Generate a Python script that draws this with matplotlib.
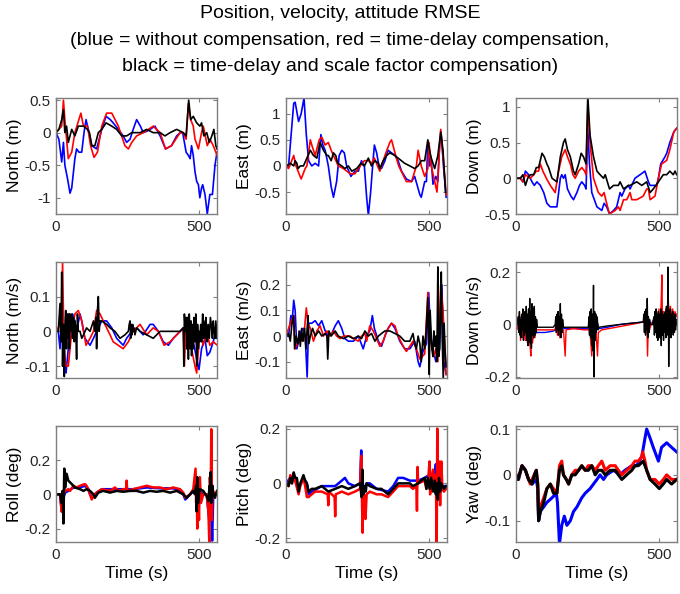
import matplotlib
matplotlib.use("Agg")
import matplotlib.pyplot as plt
from matplotlib.ticker import FormatStrFormatter

plt.rcParams['font.family'] = ['Liberation Sans', 'DejaVu Sans']
plt.rcParams['axes.unicode_minus'] = False

# (time [s], error) points, one list per curve
# position north (m)
pos_n_blue = [(0, 0), (10, -0.1), (20, -0.45), (26, -0.15), (31, -0.5), (40, -0.7), (49, -0.93), (55, -0.85),
              (66, -0.4), (72, -0.25), (80, -0.3), (90, -0.3), (98, 0.0), (105, 0.2), (113, 0.05), (125, -0.2),
              (142, -0.25), (160, 0.05), (175, 0.25), (190, 0.2), (200, 0.15), (218, 0.05), (235, -0.05),
              (247, -0.15), (259, -0.1), (270, 0.05), (282, 0.2), (295, 0.1), (305, 0.0), (317, 0.02),
              (329, 0.05), (346, 0.1), (364, -0.05), (383, -0.25), (404, -0.2), (422, -0.05), (434, 0.0),
              (443, 0.0), (455, -0.3), (463, -0.35), (469, -0.4), (474, -0.2), (480, -0.35), (486, -0.6),
              (492, -0.75), (498, -0.8), (503, -1.0), (509, -0.85), (513, -0.8), (521, -0.95), (529, -1.25),
              (538, -0.95), (547, -0.95), (556, -0.5), (563, -0.3)]
pos_n_red = [(0, 0), (10, 0.05), (20, 0.1), (26, 0.5), (31, 0.2), (43, -0.4), (55, -0.3), (66, 0.0), (80, 0.2),
             (87, 0.3), (96, 0.1), (110, 0.1), (121, -0.2), (133, -0.38), (145, -0.3), (160, 0.1), (177, 0.3),
             (195, 0.3), (218, 0.1), (241, -0.2), (253, -0.25), (265, -0.15), (282, -0.05), (305, 0.0),
             (323, 0.05), (340, 0.1), (364, 0.0), (383, -0.25), (404, -0.2), (434, 0.0), (445, 0.0),
             (455, -0.1), (463, 0.45), (471, 0.2), (480, 0.1), (486, -0.1), (498, -0.25), (509, 0.0),
             (515, 0.1), (529, -0.2), (538, -0.1), (550, -0.2), (559, -0.3), (563, -0.35)]
pos_n_black = [(0, 0), (10, 0.05), (20, 0.2), (26, 0.35), (31, 0.0), (37, 0.1), (43, -0.15), (55, 0.05),
               (66, -0.05), (78, 0.1), (96, 0.1), (110, 0.05), (117, 0.0), (125, -0.2), (136, -0.2), (148, 0.0),
               (160, 0.05), (175, 0.15), (195, 0.1), (212, 0.05), (230, -0.05), (247, -0.05), (265, 0.0),
               (294, 0.0), (317, 0.05), (340, 0.0), (364, 0.0), (381, -0.05), (399, 0.0), (422, 0.05),
               (445, 0.0), (455, -0.05), (464, 0.5), (471, 0.2), (480, 0.25), (492, 0.15), (503, 0.1),
               (509, 0.15), (517, -0.05), (527, 0.0), (536, -0.15), (545, -0.05), (552, 0.05), (559, -0.2),
               (563, -0.25)]

# position east (m)
pos_e_blue = [(0, 0), (9, 0.0), (27, 1.2), (32, 1.22), (44, 0.85), (53, 1.0), (63, 1.3), (71, 0.6), (79, 0.1),
              (90, 0.0), (102, 0.05), (114, 0.0), (122, 0.6), (129, 0.4), (137, 0.3), (148, 0.0), (158, -0.4),
              (166, -0.6), (177, -0.3), (186, 0.2), (195, 0.3), (204, 0.25), (212, 0.0), (227, -0.2),
              (241, -0.1), (253, -0.1), (264, 0.1), (274, 0.0), (282, -0.6), (288, -0.95), (296, -0.5),
              (303, 0.0), (309, 0.4), (317, 0.25), (325, 0.0), (334, -0.05), (346, 0.1), (357, 0.3),
              (381, 0.2), (392, 0.1), (404, -0.1), (421, -0.25), (439, -0.3), (450, -0.2), (468, -0.55),
              (473, -0.6), (485, -0.3), (491, -0.3), (496, 0.45), (502, 0.0), (508, 0.1), (514, -0.35),
              (524, -0.2), (531, -0.3), (537, 0.4), (543, 0.6), (552, -0.1), (560, -0.6)]
pos_e_red = [(0, 0), (9, -0.05), (27, 0.2), (35, 0.0), (42, -0.1), (53, -0.25), (67, -0.05), (73, 0.0), (85, 0.5),
             (93, 0.35), (102, 0.2), (116, 0.5), (125, 0.55), (137, 0.4), (148, 0.45), (158, 0.3), (166, 0.2),
             (183, 0.0), (201, -0.05), (224, -0.15), (241, -0.15), (259, 0.0), (274, 0.1), (288, 0.1),
             (299, 0.05), (309, 0.15), (320, 0.0), (328, -0.1), (340, 0.1), (346, 0.2), (363, 0.45),
             (369, 0.5), (381, 0.25), (386, 0.15), (394, 0.0), (421, -0.3), (439, -0.3), (456, 0.0),
             (462, 0.3), (473, 0.0), (485, -0.2), (496, -0.05), (500, 0.45), (508, 0.0), (520, -0.3),
             (528, -0.5), (541, 0.7), (549, 0.2), (560, -0.55)]
pos_e_black = [(0, 0), (15, 0.05), (27, 0.0), (32, 0.1), (38, 0.05), (42, -0.05), (50, 0.0), (61, 0.0),
               (73, 0.15), (85, 0.3), (96, 0.2), (108, 0.15), (119, 0.45), (131, 0.3), (143, 0.2), (148, 0.2),
               (158, 0.1), (166, 0.25), (174, 0.2), (181, 0.05), (195, 0.0), (206, -0.05), (218, 0.0),
               (230, -0.1), (247, -0.05), (262, 0.05), (274, 0.0), (288, 0.15), (299, 0.0), (311, 0.1),
               (323, 0.05), (328, -0.05), (340, 0.1), (352, 0.2), (363, 0.25), (381, 0.2), (392, 0.15),
               (415, 0.05), (433, 0.0), (450, -0.05), (462, 0.0), (473, 0.1), (485, 0.1), (496, 0.5),
               (502, 0.3), (508, 0.15), (520, -0.05), (531, 0.2), (541, 0.65), (549, 0.3), (558, -0.5)]

# position down (m)
pos_d_blue = [(0, 0), (15, 0.0), (24, -0.05), (33, 0.1), (44, 0.05), (50, 0.0), (56, -0.05), (64, -0.1),
              (73, -0.05), (85, -0.1), (97, -0.2), (108, -0.35), (120, -0.4), (143, -0.4), (149, -0.2),
              (155, 0.0), (160, 0.05), (166, 0.0), (172, 0.05), (180, -0.15), (192, -0.25), (201, -0.3),
              (213, -0.2), (222, -0.1), (230, -0.05), (240, -0.1), (245, -0.15), (251, 0.7), (257, 0.2),
              (265, -0.2), (283, -0.4), (300, -0.45), (308, -0.35), (317, -0.4), (327, -0.5), (341, -0.45),
              (352, -0.4), (364, -0.2), (370, -0.25), (381, -0.15), (393, -0.1), (399, -0.15), (416, 0.0),
              (434, 0.05), (451, 0.1), (463, -0.05), (469, -0.1), (492, -0.1), (498, 0.0), (506, 0.2),
              (521, 0.3), (527, 0.35), (538, 0.5), (552, 0.65), (562, 0.7)]
pos_d_red = [(0, 0), (15, 0.0), (24, -0.05), (33, 0.05), (50, 0.0), (62, 0.05), (71, 0.1), (79, 0.1), (85, 0.2),
             (94, 0.1), (106, 0.0), (120, -0.1), (137, -0.2), (149, 0.1), (160, 0.3), (172, 0.4), (180, 0.3),
             (190, 0.2), (199, 0.05), (207, 0.0), (219, 0.1), (230, 0.15), (240, 0.1), (245, 0.05),
             (251, 1.0), (259, 0.5), (271, 0.0), (288, -0.2), (300, -0.25), (308, -0.2), (317, -0.35),
             (327, -0.5), (347, -0.45), (358, -0.4), (364, -0.45), (376, -0.3), (387, -0.3), (399, -0.2),
             (405, -0.3), (422, -0.3), (445, -0.25), (457, -0.15), (463, -0.15), (469, -0.3), (486, -0.25),
             (498, 0.0), (509, 0.2), (527, 0.25), (538, 0.4), (552, 0.65), (562, 0.7)]
pos_d_black = [(0, 0), (15, 0.0), (24, 0.05), (33, -0.1), (41, 0.0), (50, 0.05), (62, 0.05), (71, 0.15),
               (79, 0.15), (91, 0.35), (99, 0.3), (108, 0.2), (114, 0.15), (126, 0.0), (143, -0.05),
               (155, 0.3), (166, 0.5), (172, 0.55), (180, 0.4), (190, 0.3), (201, 0.1), (207, 0.05),
               (219, 0.2), (228, 0.35), (236, 0.3), (245, 0.2), (251, 1.15), (259, 0.6), (271, 0.3),
               (283, 0.1), (294, 0.05), (306, 0.0), (312, 0.05), (327, -0.15), (341, -0.1), (358, -0.1),
               (364, -0.05), (376, -0.15), (393, -0.1), (399, -0.1), (422, -0.05), (440, -0.1), (457, -0.05),
               (469, -0.2), (480, -0.15), (498, -0.05), (515, 0.05), (527, 0.05), (538, 0.1), (550, 0.05),
               (556, 0.1), (562, 0.05)]

# velocity north (m/s)
vel_n_blue = [(0, 0), (8, 0.0), (14, -0.05), (20, 0.05), (28, -0.08), (35, -0.12), (43, -0.05), (49, 0.0),
              (58, 0.05), (66, 0.03), (72, 0.0), (84, 0.05), (90, 0.03), (101, -0.02), (119, -0.04),
              (131, -0.02), (142, 0.0), (160, 0.03), (177, 0.03), (195, 0.01), (212, -0.02), (235, -0.04),
              (247, -0.02), (265, 0.0), (282, 0.01), (305, -0.01), (329, 0.02), (340, 0.02), (358, 0.0),
              (375, -0.03), (393, -0.04), (410, -0.02), (434, 0.0), (445, 0.01), (457, -0.05), (469, 0.02),
              (480, -0.03), (492, -0.08), (500, -0.11), (509, -0.05), (521, -0.02), (529, -0.07),
              (538, -0.06), (550, -0.03), (563, 0.02)]
vel_n_red = [(0, 0), (14, 0.02), (20, 0.05), (23, 0.2), (28, -0.05), (35, -0.1), (43, -0.1), (55, 0.0),
             (66, 0.05), (78, 0.06), (90, 0.03), (105, -0.04), (119, -0.02), (131, 0.0), (142, 0.06),
             (154, 0.05), (171, 0.02), (189, -0.01), (200, -0.03), (235, -0.05), (253, -0.03), (270, 0.0),
             (294, 0.02), (317, -0.01), (340, 0.01), (358, 0.0), (378, -0.04), (399, -0.03), (434, 0.0),
             (445, 0.01), (449, -0.1), (455, 0.03), (466, -0.02), (474, -0.05), (486, -0.1), (492, -0.12),
             (503, 0.0), (515, -0.04), (527, 0.0), (538, -0.04), (550, -0.03), (564, -0.04)]
vel_n_black = [(0, 0), (8, 0.0), (14, 0.08), (17, -0.03), (20, 0.17), (23, -0.1), (26, 0.02), (29, -0.13),
               (32, 0.03), (34, 0.06), (37, -0.05), (40, 0.05), (43, -0.02), (45, 0.05), (47, -0.05),
               (49, 0.05), (51, 0.0), (55, 0.05), (58, -0.02), (61, 0.04), (64, -0.03), (66, 0.03), (69, 0.01),
               (72, -0.08), (75, 0.05), (78, 0.0), (84, 0.0), (90, -0.02), (96, -0.01), (107, 0.01), (119, 0.0),
               (131, 0.03), (136, 0.0), (140, 0.04), (142, -0.05), (145, 0.06), (148, 0.1), (151, 0.0),
               (154, 0.03), (160, 0.03), (177, 0.02), (189, 0.01), (206, 0.0), (224, -0.02), (241, -0.01),
               (253, 0.0), (256, 0.02), (259, 0.03), (261, -0.02), (263, 0.02), (265, -0.01), (268, 0.02),
               (270, 0.0), (273, 0.01), (276, -0.01), (282, 0.01), (294, 0.0), (317, -0.01), (340, -0.02),
               (364, 0.0), (387, 0.0), (410, 0.0), (434, 0.0), (445, 0.01), (447, -0.1), (449, 0.05),
               (452, 0.0), (455, 0.04), (458, -0.05), (460, 0.04), (463, -0.08), (466, 0.05), (469, -0.05),
               (472, 0.03), (474, -0.07), (477, 0.02), (480, -0.05), (483, 0.04), (486, -0.03), (489, 0.05),
               (492, -0.1), (495, 0.02), (498, -0.05), (500, 0.0), (503, -0.03), (506, 0.02), (509, -0.03),
               (513, 0.05), (515, -0.02), (517, 0.03), (521, -0.02), (524, 0.04), (527, 0.0), (529, -0.03),
               (532, 0.02), (536, -0.02), (540, 0.04), (544, 0.01), (547, -0.02), (550, 0.03), (553, 0.0),
               (556, -0.02), (559, 0.03), (562, -0.02)]

# velocity east (m/s)
vel_e_blue = [(0, 0), (9, 0.0), (17, 0.08), (21, 0.05), (27, 0.14), (32, 0.1), (38, -0.05), (44, -0.02),
              (53, 0.02), (61, 0.03), (67, 0.0), (74, -0.16), (79, 0.05), (90, 0.05), (102, 0.06), (114, 0.04),
              (125, 0.06), (137, 0.02), (148, 0.0), (160, 0.01), (172, 0.04), (183, 0.06), (195, 0.03),
              (206, -0.01), (218, -0.02), (236, -0.02), (253, 0.0), (270, -0.05), (282, 0.0), (293, 0.02),
              (302, 0.08), (309, 0.03), (323, -0.02), (334, -0.04), (346, 0.0), (357, 0.03), (369, 0.05),
              (381, 0.03), (398, -0.02), (415, -0.05), (433, -0.05), (450, -0.02), (462, -0.1), (468, -0.12),
              (479, -0.06), (491, -0.03), (499, 0.17), (506, 0.0), (514, -0.05), (524, -0.1), (537, -0.05),
              (545, 0.2), (552, -0.1), (560, -0.15)]
vel_e_red = [(0, 0), (15, 0.05), (27, 0.08), (32, -0.05), (42, -0.02), (50, 0.0), (61, -0.02), (71, 0.11),
             (77, 0.05), (85, 0.03), (96, -0.02), (108, 0.02), (119, 0.04), (131, 0.0), (143, 0.02), (154, 0.0),
             (166, 0.02), (177, 0.0), (189, -0.01), (201, 0.0), (224, 0.0), (236, -0.01), (253, -0.02),
             (264, 0.0), (276, 0.01), (282, -0.02), (293, 0.04), (305, 0.02), (317, -0.01), (328, -0.04),
             (340, -0.02), (352, 0.02), (369, 0.05), (381, 0.04), (392, 0.0), (410, -0.04), (421, -0.06),
             (433, -0.04), (444, -0.02), (456, -0.05), (468, -0.09), (485, -0.07), (496, 0.17), (502, 0.0),
             (517, -0.08), (524, -0.05), (531, -0.1), (541, 0.2), (549, 0.1), (560, -0.15)]
vel_e_black = [(0, 0), (9, 0.01), (15, -0.02), (21, 0.05), (27, 0.08), (30, -0.05), (35, 0.0), (42, -0.03),
               (46, 0.02), (50, -0.04), (55, 0.03), (58, -0.02), (61, 0.0), (65, 0.03), (70, -0.05), (74, 0.03),
               (77, 0.08), (80, -0.03), (85, 0.0), (93, 0.03), (102, 0.0), (114, 0.02), (125, 0.0), (137, 0.01),
               (143, 0.0), (146, -0.09), (150, 0.02), (158, 0.0), (172, 0.02), (183, 0.0), (201, -0.01),
               (218, 0.0), (236, -0.01), (253, 0.0), (264, -0.01), (276, 0.02), (288, 0.0), (299, 0.01),
               (311, -0.02), (323, 0.0), (334, 0.01), (346, 0.02), (363, 0.02), (381, 0.01), (398, 0.0),
               (415, -0.02), (433, -0.02), (444, 0.01), (450, -0.03), (456, -0.05), (462, 0.0), (468, -0.03),
               (473, -0.1), (479, 0.0), (485, -0.05), (490, 0.02), (496, 0.15), (499, -0.05), (501, -0.15),
               (504, 0.1), (506, 0.05), (510, -0.05), (514, -0.08), (517, 0.02), (520, -0.04), (524, 0.0),
               (527, -0.1), (529, 0.05), (531, 0.27), (534, -0.08), (537, -0.05), (540, 0.1), (543, 0.25),
               (546, 0.0), (550, -0.17), (553, 0.05), (556, -0.05), (560, -0.12)]

# velocity down (m/s)
vel_d_blue = [(0, 0), (10, -0.02), (14, 0.03), (18, -0.04), (22, 0.02), (26, -0.05), (30, 0.03), (34, -0.06),
              (38, 0.02), (42, -0.07), (46, 0.03), (50, -0.08), (54, 0.02), (58, -0.06), (62, 0.02), (66, -0.04),
              (70, -0.03), (80, -0.03), (100, -0.03), (130, -0.025), (137, -0.02), (143, 0.02), (147, -0.04),
              (151, 0.02), (155, -0.04), (159, 0.01), (166, -0.015), (200, -0.015), (240, -0.015),
              (253, -0.015), (259, 0.03), (263, -0.05), (267, 0.02), (271, -0.08), (275, 0.02), (279, -0.04),
              (284, 0.01), (290, -0.015), (320, -0.01), (360, 0.0), (400, 0.005), (445, 0.01), (451, 0.03),
              (455, -0.03), (459, 0.04), (463, -0.02), (467, 0.01), (472, 0.0), (482, 0.02), (486, -0.03),
              (490, 0.03), (494, -0.03), (498, 0.04), (502, -0.04), (506, 0.03), (510, -0.03), (516, 0.03),
              (520, -0.02), (526, 0.04), (532, -0.02), (538, 0.03), (544, -0.02), (550, 0.03), (556, -0.01),
              (562, 0.02)]
vel_d_red = [(0, 0), (8, -0.02), (12, 0.04), (16, -0.06), (20, 0.03), (24, -0.05), (28, 0.05), (32, -0.06),
             (36, 0.04), (40, -0.07), (44, 0.05), (48, -0.06), (52, -0.12), (54, 0.04), (58, -0.07), (62, 0.04),
             (66, -0.05), (70, -0.02), (80, -0.02), (100, -0.02), (130, -0.02), (137, -0.02), (141, 0.02),
             (145, -0.04), (149, 0.03), (153, -0.05), (157, 0.02), (161, -0.03), (166, -0.02), (172, -0.12),
             (175, -0.02), (200, -0.015), (240, -0.02), (253, -0.02), (257, 0.03), (261, -0.06), (265, -0.12),
             (269, 0.03), (273, -0.05), (277, 0.04), (281, -0.05), (285, -0.12), (288, -0.03), (300, -0.02),
             (350, -0.01), (400, 0.0), (445, 0.01), (449, 0.02), (453, -0.03), (457, 0.03), (460, -0.12),
             (463, 0.02), (467, -0.02), (472, 0.0), (480, 0.01), (484, 0.03), (488, -0.03), (492, 0.05),
             (496, -0.04), (500, 0.06), (504, -0.03), (508, 0.1), (510, 0.19), (512, 0.02), (516, 0.05),
             (520, 0.0), (524, 0.06), (528, 0.02), (532, 0.1), (536, 0.03), (540, 0.07), (544, 0.02),
             (548, 0.06), (552, 0.03), (556, 0.05), (560, 0.03), (562, 0.04)]
vel_d_black = [(0, 0), (5, 0.0), (8, 0.03), (10, -0.03), (12, 0.05), (14, -0.04), (16, 0.02), (18, -0.05),
               (20, 0.04), (22, -0.02), (24, 0.06), (26, -0.06), (28, 0.03), (30, -0.04), (32, 0.05), (34, -0.03),
               (36, 0.07), (38, -0.06), (40, 0.04), (42, -0.08), (44, 0.06), (46, -0.05), (48, 0.1), (50, -0.07),
               (52, 0.05), (54, -0.09), (56, 0.08), (58, -0.04), (60, 0.06), (62, -0.05), (64, 0.07),
               (66, -0.04), (68, 0.03), (70, -0.03), (72, 0.02), (75, -0.01), (80, -0.01), (90, -0.01),
               (110, -0.01), (130, -0.01), (137, 0.0), (139, 0.03), (141, -0.03), (143, 0.04), (145, -0.02),
               (147, 0.05), (149, -0.04), (151, 0.03), (153, -0.02), (155, 0.08), (157, -0.05), (159, 0.04),
               (161, -0.03), (163, 0.02), (166, -0.01), (180, -0.01), (200, -0.01), (230, -0.01), (253, -0.01),
               (255, 0.03), (257, -0.04), (259, 0.05), (261, -0.05), (263, 0.06), (265, -0.08), (267, 0.04),
               (269, -0.1), (271, 0.15), (273, -0.2), (275, 0.05), (277, -0.06), (279, 0.04), (281, -0.03),
               (284, 0.03), (287, -0.02), (290, -0.01), (320, -0.005), (360, 0.0), (400, 0.005), (445, 0.01),
               (447, 0.04), (449, -0.03), (451, 0.05), (453, -0.04), (455, 0.06), (457, -0.02), (459, 0.1),
               (461, -0.05), (463, 0.03), (465, -0.03), (467, 0.02), (470, 0.0), (478, 0.0), (482, 0.03),
               (484, -0.04), (486, 0.05), (488, -0.03), (490, 0.06), (492, -0.05), (494, 0.04), (496, -0.06),
               (498, 0.05), (500, -0.03), (502, 0.04), (504, -0.05), (506, 0.06), (508, -0.08), (510, 0.05),
               (512, -0.04), (514, 0.03), (516, -0.06), (518, 0.04), (520, -0.03), (522, 0.05), (524, -0.05),
               (526, 0.07), (528, -0.04), (530, 0.06), (532, 0.22), (534, -0.16), (536, 0.05), (538, -0.04),
               (540, 0.06), (542, -0.05), (544, 0.04), (546, -0.03), (548, 0.05), (550, -0.04), (552, 0.03),
               (554, -0.03), (556, 0.04), (558, -0.02), (560, 0.02), (562, 0.0)]

# roll (deg)
roll_blue = [(0, 0), (14, 0.0), (20, -0.1), (23, -0.04), (26, -0.02), (32, 0.01), (43, 0.02), (61, 0.04),
             (84, 0.04), (101, 0.05), (113, 0.03), (119, 0.0), (125, -0.02), (142, 0.01), (160, 0.03),
             (206, 0.03), (235, 0.03), (270, 0.03), (317, 0.04), (364, 0.035), (410, 0.035), (434, 0.025),
             (445, 0.0), (452, -0.03), (469, 0.0), (480, 0.02), (490, 0.0), (494, -0.08), (500, 0.02),
             (515, 0.0), (527, 0.0), (536, -0.15), (541, 0.05), (543, -0.1), (546, -0.27), (550, 0.0),
             (563, 0.0)]
roll_red = [(0, 0), (14, 0.0), (20, -0.1), (23, -0.03), (26, 0.0), (32, 0.02), (43, 0.03), (49, 0.02), (61, 0.05),
            (72, 0.04), (84, 0.05), (101, 0.06), (107, 0.05), (113, 0.03), (119, 0.0), (125, -0.03), (131, -0.01),
            (142, 0.01), (160, 0.03), (189, 0.02), (206, 0.04), (218, 0.02), (235, 0.03), (245, 0.03),
            (247, 0.08), (249, 0.02), (270, 0.03), (294, 0.04), (317, 0.05), (340, 0.04), (364, 0.04),
            (387, 0.03), (410, 0.04), (434, 0.03), (445, 0.01), (452, -0.02), (469, 0.0), (480, 0.03),
            (488, 0.15), (490, -0.05), (492, 0.1), (494, -0.2), (497, 0.05), (500, -0.15), (503, 0.1),
            (507, -0.05), (515, 0.0), (527, 0.0), (533, -0.1), (536, -0.28), (538, 0.1), (541, -0.05),
            (543, 0.38), (545, -0.15), (547, 0.05), (550, 0.0), (556, 0.01), (563, 0.0)]
roll_black = [(0, 0), (8, 0.0), (14, 0.0), (20, -0.05), (23, 0.02), (26, -0.17), (28, 0.05), (29, 0.15),
              (32, 0.04), (35, 0.1), (37, 0.12), (43, 0.08), (49, 0.07), (55, 0.06), (66, 0.04), (84, 0.03),
              (96, 0.02), (107, 0.03), (119, 0.02), (131, 0.0), (136, -0.02), (148, 0.01), (165, 0.02),
              (189, 0.01), (212, 0.02), (235, 0.015), (259, 0.02), (282, 0.02), (305, 0.01), (329, 0.02),
              (352, 0.015), (375, 0.02), (399, 0.01), (422, 0.02), (445, 0.0), (457, -0.02), (469, 0.0),
              (480, 0.02), (486, 0.0), (490, 0.05), (492, -0.1), (494, 0.1), (497, -0.05), (500, 0.0),
              (503, 0.03), (515, 0.02), (527, -0.01), (533, -0.04), (537, 0.05), (539, -0.02), (541, 0.13),
              (543, -0.05), (545, 0.02), (547, 0.05), (550, 0.0), (556, -0.02), (563, 0.02)]

# pitch (deg)
pitch_blue = [(0, 0), (15, 0.02), (27, 0.03), (44, -0.02), (61, 0.02), (73, 0.0), (79, -0.04), (90, -0.03),
              (125, -0.01), (172, -0.01), (195, 0.01), (206, 0.02), (218, 0.0), (241, -0.01), (259, 0.0),
              (263, 0.12), (265, 0.0), (270, -0.03), (282, 0.0), (293, 0.0), (317, -0.02), (357, -0.03),
              (375, -0.01), (392, 0.02), (410, 0.02), (433, 0.01), (462, 0.01), (485, 0.02), (500, 0.03),
              (508, 0.0), (520, 0.02), (524, 0.07), (527, 0.0), (535, 0.02), (543, -0.01), (560, -0.01)]
pitch_red = [(0, 0), (9, -0.01), (15, 0.03), (21, 0.0), (27, 0.03), (32, 0.01), (44, -0.04), (50, -0.01),
             (61, 0.02), (67, -0.01), (73, -0.05), (79, -0.05), (90, -0.04), (102, -0.03), (125, -0.03),
             (146, -0.04), (148, -0.08), (150, -0.03), (160, -0.04), (170, -0.05), (172, -0.12), (174, -0.04),
             (195, -0.03), (218, -0.04), (241, -0.03), (259, -0.02), (263, 0.1), (265, -0.03), (268, -0.18),
             (270, -0.02), (274, -0.05), (278, -0.13), (282, -0.04), (293, -0.03), (317, -0.04), (334, -0.04),
             (357, -0.05), (375, -0.03), (392, -0.01), (415, -0.01), (433, -0.01), (444, -0.02), (456, -0.01),
             (458, -0.1), (460, 0.06), (462, 0.0), (485, 0.01), (491, -0.02), (496, 0.0), (502, 0.08),
             (504, -0.04), (508, 0.02), (514, 0.05), (520, 0.0), (524, 0.03), (527, -0.22), (529, 0.2),
             (531, -0.05), (535, 0.08), (539, -0.08), (543, 0.08), (547, -0.02), (552, -0.03), (560, -0.02)]
pitch_black = [(0, 0), (9, -0.01), (15, 0.02), (21, 0.0), (27, 0.04), (32, 0.02), (38, 0.02), (44, -0.03),
               (50, 0.0), (61, 0.03), (67, 0.01), (73, 0.0), (79, -0.03), (90, -0.02), (102, -0.02), (125, -0.01),
               (148, -0.03), (172, -0.02), (195, -0.01), (218, -0.02), (241, -0.01), (259, 0.0), (264, -0.05),
               (267, 0.05), (270, -0.04), (274, -0.01), (279, -0.03), (282, 0.0), (293, -0.01), (317, -0.02),
               (334, -0.02), (357, -0.04), (375, -0.02), (392, 0.0), (415, 0.0), (433, 0.0), (444, -0.01),
               (462, 0.0), (485, 0.02), (491, -0.02), (496, 0.02), (502, -0.02), (508, 0.02), (514, -0.03),
               (520, 0.01), (524, -0.04), (527, 0.0), (531, -0.06), (535, 0.02), (539, -0.03), (543, 0.0),
               (552, -0.02), (560, -0.01)]

# yaw (deg)
yaw_blue = [(0, 0), (9, -0.01), (21, 0.02), (33, 0.01), (44, -0.01), (56, -0.02), (71, -0.01), (76, -0.03),
            (79, -0.1), (85, -0.08), (108, -0.06), (126, -0.05), (141, -0.04), (145, -0.06), (152, -0.15),
            (160, -0.11), (169, -0.09), (178, -0.11), (190, -0.1), (201, -0.08), (213, -0.07), (230, -0.05),
            (242, -0.04), (259, -0.03), (271, -0.02), (283, -0.01), (294, 0.0), (306, -0.01), (317, 0.0),
            (341, 0.01), (364, 0.0), (381, 0.01), (405, 0.02), (422, 0.02), (440, 0.04), (451, 0.08),
            (457, 0.1), (469, 0.08), (480, 0.06), (492, 0.04), (498, 0.03), (509, 0.06), (527, 0.07),
            (544, 0.06), (562, 0.05)]
yaw_red = [(0, 0), (7, -0.01), (21, 0.02), (33, 0.01), (44, -0.01), (50, -0.02), (56, -0.01), (64, 0.0), (71, 0.01),
           (76, -0.02), (79, -0.09), (85, -0.07), (97, -0.05), (108, -0.03), (120, -0.02), (131, -0.03),
           (143, -0.04), (152, 0.02), (160, 0.03), (166, 0.0), (176, -0.01), (184, -0.02), (195, 0.0),
           (207, 0.01), (219, 0.01), (230, 0.02), (242, 0.01), (253, 0.02), (265, 0.02), (277, 0.01),
           (288, 0.02), (300, 0.03), (312, 0.01), (329, 0.02), (347, 0.02), (358, 0.01), (370, 0.0),
           (387, 0.01), (405, 0.02), (416, 0.03), (428, 0.03), (440, 0.04), (443, 0.05), (451, 0.03),
           (457, 0.01), (469, -0.01), (486, -0.01), (501, -0.02), (515, -0.01), (527, 0.0), (544, -0.01),
           (562, -0.01)]
yaw_black = [(0, 0), (7, -0.01), (21, 0.02), (33, 0.01), (44, -0.01), (56, -0.02), (64, 0.0), (71, 0.01),
             (76, -0.02), (79, -0.1), (85, -0.08), (97, -0.06), (108, -0.03), (120, -0.02), (131, -0.04),
             (143, -0.04), (152, 0.01), (160, 0.02), (166, 0.0), (176, -0.01), (184, -0.02), (195, 0.0),
             (207, 0.0), (219, 0.01), (230, 0.02), (242, 0.01), (253, 0.01), (265, 0.02), (277, 0.0),
             (288, 0.01), (300, 0.01), (312, 0.0), (329, 0.01), (347, 0.01), (358, 0.0), (370, -0.01),
             (387, 0.0), (405, 0.01), (416, 0.02), (428, 0.02), (445, 0.03), (457, 0.01), (469, -0.01),
             (486, -0.02), (501, -0.03), (515, -0.02), (527, -0.01), (544, -0.02), (562, -0.01)]

panels = [
    ("North (m)", [pos_n_blue, pos_n_red, pos_n_black], (-1.25, 0.54), [-1, -0.5, 0, 0.5], 1.2),
    ("East (m)", [pos_e_blue, pos_e_red, pos_e_black], (-0.92, 1.31), [-0.5, 0, 0.5, 1], 1.2),
    ("Down (m)", [pos_d_blue, pos_d_red, pos_d_black], (-0.5, 1.13), [-0.5, 0, 0.5, 1], 1.2),
    ("North (m/s)", [vel_n_blue, vel_n_red, vel_n_black], (-0.135, 0.2), [-0.1, 0, 0.1], 1.2),
    ("East (m/s)", [vel_e_blue, vel_e_red, vel_e_black], (-0.165, 0.29), [-0.1, 0, 0.1, 0.2], 1.2),
    ("Down (m/s)", [vel_d_blue, vel_d_red, vel_d_black], (-0.205, 0.24), [-0.2, 0, 0.2], 1.0),
    ("Roll (deg)", [roll_blue, roll_red, roll_black], (-0.28, 0.40), [-0.2, 0, 0.2], 1.8),
    ("Pitch (deg)", [pitch_blue, pitch_red, pitch_black], (-0.215, 0.21), [-0.2, 0, 0.2], 1.8),
    ("Yaw (deg)", [yaw_blue, yaw_red, yaw_black], (-0.147, 0.107), [-0.1, 0, 0.1], 2.2),
]
colors = ['#0000ff', '#ff0000', '#000000']

fig = plt.figure(figsize=(6.8, 5.94), dpi=100)

# title, three centred lines
fig.text(0.5, 1 - 18.5 / 594, "Position, velocity, attitude RMSE", ha='center', va='baseline', fontsize=14)
fig.text(0.5, 1 - 45 / 594, "(blue = without compensation, red = time-delay compensation,",
         ha='center', va='baseline', fontsize=14)
fig.text(0.5, 1 - 71 / 594, "black = time-delay and scale factor compensation)",
         ha='center', va='baseline', fontsize=14)

lefts = [56, 286, 516]
bottoms = [214, 378.3, 542.3]
for i, (ylab, curves, ylim, yticks, lw) in enumerate(panels):
    row, col = i // 3, i % 3
    ax = fig.add_axes([lefts[col] / 680, 1 - bottoms[row] / 594, 161 / 680, 116.5 / 594])
    for pts, c in zip(curves, colors):
        t, y = zip(*pts)
        ax.plot(t, y, color=c, lw=lw)
    ax.set_xlim(0, 563)
    ax.set_ylim(*ylim)
    ax.set_xticks([0, 500])
    ax.set_yticks(yticks)
    ax.yaxis.set_major_formatter(FormatStrFormatter('%g'))
    ax.set_ylabel(ylab, fontsize=12.5, labelpad=2)
    if row == 2:
        ax.set_xlabel("Time (s)", fontsize=12.5, labelpad=3)
    ax.tick_params(direction='in', top=True, right=True, length=3, width=0.8,
                   labelsize=11, colors='#7f7f7f', labelcolor='#262626', pad=4)
    for s in ax.spines.values():
        s.set_color('#7f7f7f')
        s.set_linewidth(1.0)

fig.savefig("out.png", dpi=100)
